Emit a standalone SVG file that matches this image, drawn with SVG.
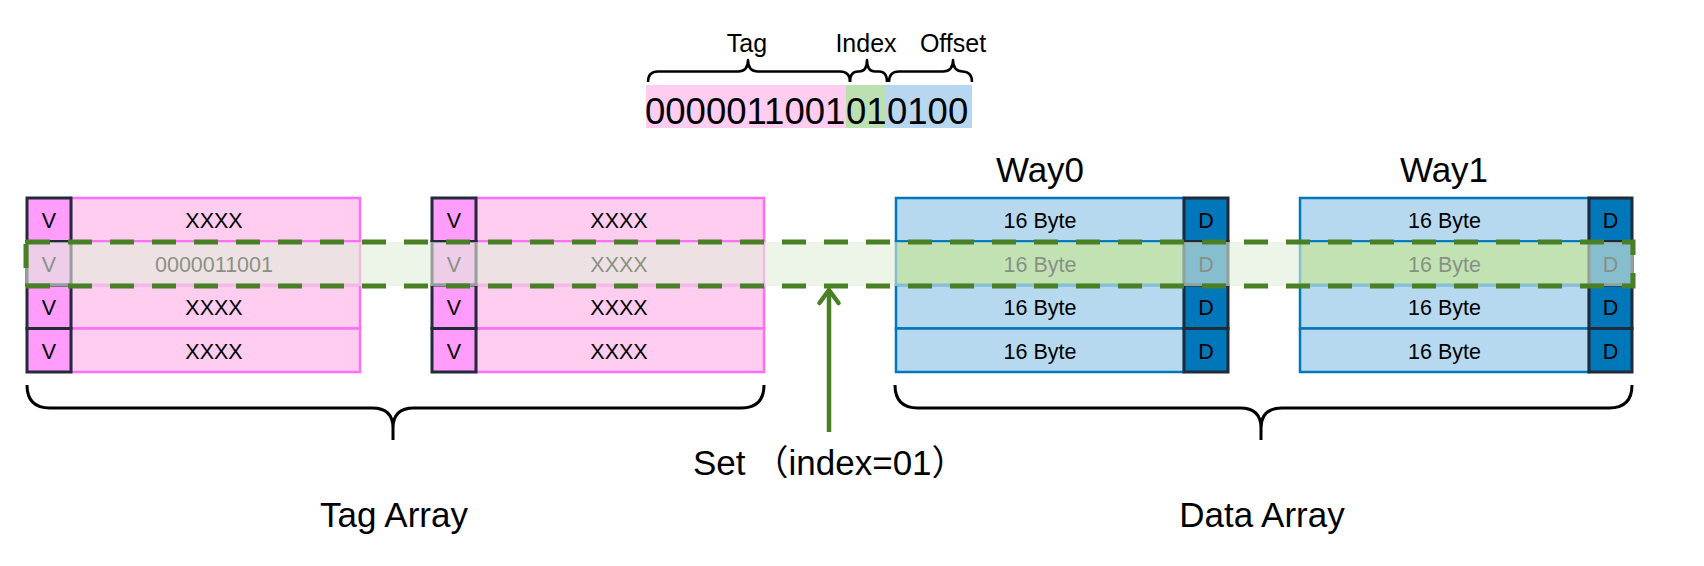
<svg xmlns="http://www.w3.org/2000/svg" width="1704" height="566" viewBox="0 0 1704 566">
<style>
text{font-family:"Liberation Sans",Arial,Helvetica,sans-serif;fill:#000;text-anchor:middle}
.cell{font-size:21.5px}
.big{font-size:35px}
.lbl{font-size:25px}
.addr{font-size:36.5px;text-anchor:start}
.tag{fill:#ffcdf0;stroke:#ff6ef7;stroke-width:2.5}
.v{fill:#ff9cfc;stroke:#232b3a;stroke-width:3}
.dat{fill:#b7d9f0;stroke:#0077bb;stroke-width:2.5}
.datg{fill:#93d07b;stroke:#0077bb;stroke-width:2.5}
.d{fill:#0077b9;stroke:#1f2b3b;stroke-width:3}
.brace{fill:none;stroke:#000;stroke-width:2.5;stroke-linejoin:round}
.brace2{fill:none;stroke:#000;stroke-width:3;stroke-linejoin:round}
</style>
<defs>
<marker id="ah" markerUnits="userSpaceOnUse" markerWidth="40" markerHeight="40" viewBox="-20 -20 40 40" refX="0" refY="0" orient="auto">
<path d="M-13,-9.5 L0,0 L-13,9.5" fill="none" stroke="#4a8025" stroke-width="4.5" stroke-linecap="round" stroke-linejoin="round"/>
</marker>
</defs>
<rect width="1704" height="566" fill="#fff"/>

<g id="address">
<rect x="646" y="85" width="200" height="43" fill="#ffcdf0"/>
<rect x="846" y="85" width="40" height="43" fill="#bde0b0"/>
<rect x="886" y="85" width="86" height="43" fill="#b6d7ef"/>
<text class="addr" x="645" y="124">0000011001</text>
<text class="addr" x="846" y="124">01</text>
<text class="addr" x="887" y="124">0100</text>
<text class="lbl" x="747" y="52">Tag</text>
<text class="lbl" x="866" y="52">Index</text>
<text class="lbl" x="953" y="52">Offset</text>
</g>

<g id="tag-array-0">
<rect class="tag" x="71" y="198" width="289" height="43.5"/>
<rect class="tag" x="71" y="241.5" width="289" height="43.5"/>
<rect class="tag" x="71" y="285" width="289" height="43.5"/>
<rect class="tag" x="71" y="328.5" width="289" height="43.5"/>
<rect class="v" x="27" y="198" width="44" height="43.5"/>
<rect class="v" x="27" y="241.5" width="44" height="43.5"/>
<rect class="v" x="27" y="285" width="44" height="43.5"/>
<rect class="v" x="27" y="328.5" width="44" height="43.5"/>
<text class="cell" x="49" y="228">V</text>
<text class="cell" x="49" y="271.5">V</text>
<text class="cell" x="49" y="315">V</text>
<text class="cell" x="49" y="358.5">V</text>
<text class="cell" x="214" y="228">XXXX</text>
<text class="cell" x="214" y="271.5">0000011001</text>
<text class="cell" x="214" y="315">XXXX</text>
<text class="cell" x="214" y="358.5">XXXX</text>
</g>

<g id="tag-array-1">
<rect class="tag" x="476" y="198" width="288" height="43.5"/>
<rect class="tag" x="476" y="241.5" width="288" height="43.5"/>
<rect class="tag" x="476" y="285" width="288" height="43.5"/>
<rect class="tag" x="476" y="328.5" width="288" height="43.5"/>
<rect class="v" x="432" y="198" width="44" height="43.5"/>
<rect class="v" x="432" y="241.5" width="44" height="43.5"/>
<rect class="v" x="432" y="285" width="44" height="43.5"/>
<rect class="v" x="432" y="328.5" width="44" height="43.5"/>
<text class="cell" x="454" y="228">V</text>
<text class="cell" x="454" y="271.5">V</text>
<text class="cell" x="454" y="315">V</text>
<text class="cell" x="454" y="358.5">V</text>
<text class="cell" x="619" y="228">XXXX</text>
<text class="cell" x="619" y="271.5">XXXX</text>
<text class="cell" x="619" y="315">XXXX</text>
<text class="cell" x="619" y="358.5">XXXX</text>
</g>

<g id="way0">
<text class="big" x="1040" y="182">Way0</text>
<rect class="dat" x="896" y="198" width="288" height="43.5"/>
<rect class="datg" x="896" y="241.5" width="288" height="43.5"/>
<rect class="dat" x="896" y="285" width="288" height="43.5"/>
<rect class="dat" x="896" y="328.5" width="288" height="43.5"/>
<rect class="d" x="1184" y="198" width="44" height="43.5"/>
<rect class="d" x="1184" y="241.5" width="44" height="43.5"/>
<rect class="d" x="1184" y="285" width="44" height="43.5"/>
<rect class="d" x="1184" y="328.5" width="44" height="43.5"/>
<text class="cell" x="1040" y="228">16 Byte</text>
<text class="cell" x="1040" y="271.5">16 Byte</text>
<text class="cell" x="1040" y="315">16 Byte</text>
<text class="cell" x="1040" y="358.5">16 Byte</text>
<text class="cell" x="1206" y="228">D</text>
<text class="cell" x="1206" y="271.5">D</text>
<text class="cell" x="1206" y="315">D</text>
<text class="cell" x="1206" y="358.5">D</text>
</g>

<g id="way1">
<text class="big" x="1444" y="182">Way1</text>
<rect class="dat" x="1300" y="198" width="289" height="43.5"/>
<rect class="datg" x="1300" y="241.5" width="289" height="43.5"/>
<rect class="dat" x="1300" y="285" width="289" height="43.5"/>
<rect class="dat" x="1300" y="328.5" width="289" height="43.5"/>
<rect class="d" x="1589" y="198" width="43" height="43.5"/>
<rect class="d" x="1589" y="241.5" width="43" height="43.5"/>
<rect class="d" x="1589" y="285" width="43" height="43.5"/>
<rect class="d" x="1589" y="328.5" width="43" height="43.5"/>
<text class="cell" x="1444.5" y="228">16 Byte</text>
<text class="cell" x="1444.5" y="271.5">16 Byte</text>
<text class="cell" x="1444.5" y="315">16 Byte</text>
<text class="cell" x="1444.5" y="358.5">16 Byte</text>
<text class="cell" x="1610.5" y="228">D</text>
<text class="cell" x="1610.5" y="271.5">D</text>
<text class="cell" x="1610.5" y="315">D</text>
<text class="cell" x="1610.5" y="358.5">D</text>
</g>

<g id="set-highlight">
<rect x="26" y="242" width="1607" height="44" fill="#e1eeda" fill-opacity="0.6"/>
<rect x="26" y="242" width="1607" height="44" fill="none" stroke="#4a8025" stroke-width="5" stroke-dasharray="24 18"/>
</g>

<g id="connectors">
<path class="brace" d="M648,82 Q648,71.5 658,71.5 L738,71.5 Q748,71.5 748,60 Q748,71.5 758,71.5 L840,71.5 Q850,71.5 850,82"/>
<path class="brace" d="M850,82 Q850,71.5 858,71.5 L859,71.5 Q867,71.5 867,60 Q867,71.5 875,71.5 L879,71.5 Q887,71.5 887,82"/>
<path class="brace" d="M889,82 Q889,71.5 899,71.5 L943,71.5 Q953,71.5 953,60 Q953,71.5 963,71.5 L962,71.5 Q972,71.5 972,82"/>
<path class="brace2" d="M27,385 Q27,408 50,408 L372,408 Q393,408 393,428 L393,440 M393,428 Q393,408 414,408 L741,408 Q764,408 764,385"/>
<path class="brace2" d="M895,385 Q895,408 918,408 L1240,408 Q1261,408 1261,428 L1261,440 M1261,428 Q1261,408 1282,408 L1609,408 Q1632,408 1632,385"/>
<line x1="829" y1="432" x2="829" y2="290" stroke="#4a8025" stroke-width="4.5" marker-end="url(#ah)"/>
</g>

<g id="labels">
<text class="big" x="693" y="475" style="text-anchor:start;font-family:'Liberation Sans','Noto Sans CJK SC',sans-serif">Set<tspan dx="8">（index=01）</tspan></text>
<text class="big" x="394" y="527">Tag Array</text>
<text class="big" x="1262" y="527">Data Array</text>
</g>
</svg>
